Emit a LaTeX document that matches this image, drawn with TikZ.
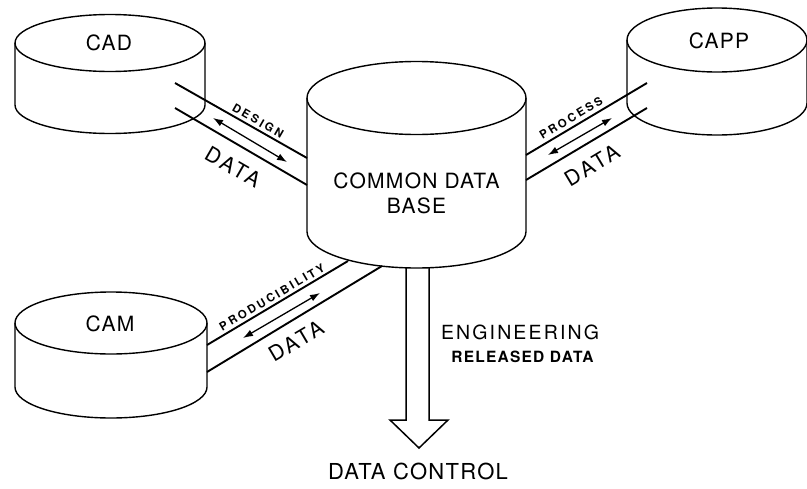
\documentclass[tikz,border=0pt]{standalone}
\usepackage{fontspec}
\setmainfont{TeX Gyre Heros}
\newfontfamily\drumsf[LetterSpace=6]{TeX Gyre Heros}
\newfontfamily\engsf[LetterSpace=11]{TeX Gyre Heros}
\newfontfamily\relsf[LetterSpace=8]{TeX Gyre Heros Bold}
\newfontfamily\datasf[LetterSpace=14]{TeX Gyre Heros}
\newfontfamily\flowsf[LetterSpace=22]{TeX Gyre Heros Bold}
\usetikzlibrary{arrows.meta}

% a data drum: name, centre x, top y, bottom y, x radius, y radius
\newcommand\datadrum[6]{%
  \draw[drumline] (#2-#5,#3) -- (#2-#5,#4)
    arc[start angle=180,end angle=0,x radius=#5,y radius=#6] -- (#2+#5,#3);
  \draw[drumline] (#2,#3) ellipse[x radius=#5,y radius=#6];
  \coordinate (#1) at (#2,#3);
}

\tikzset{
  drumline/.style={line width=1.4pt, line join=round},
  channel/.style={line width=1.9pt},
  flow/.style={line width=1.3pt, {Latex[length=10pt,width=7pt]}-{Latex[length=10pt,width=7pt]}},
  drumtext/.style={inner sep=0pt, font=\fontsize{21}{25}\selectfont\drumsf, align=center},
  datatext/.style={inner sep=0pt, font=\fontsize{21}{25}\selectfont\datasf},
  flowtext/.style={inner sep=0pt, font=\fontsize{11.5}{13}\selectfont\flowsf},
  blockarrow/.style={line width=1.5pt, line join=miter},
}

\begin{document}
\begin{tikzpicture}[x=1pt, y=1pt, yscale=-1]
\useasboundingbox (0,0) rectangle (807,488);

% drums
\datadrum{cadtop}{110}{43}{105}{95}{28.5}
\datadrum{capptop}{717}{40}{103}{90}{32}
\datadrum{camtop}{111}{323}{387}{96}{31}
\datadrum{cdbtop}{416.5}{98}{231.5}{109.5}{36.5}

\node[drumtext] (cad) at (109,43) {CAD};
\node[drumtext] (capp) at (719,41) {CAPP};
\node[drumtext] (cam) at (110,324) {CAM};
\node[drumtext] (cdb) at (416.5,193) {COMMON DATA\\BASE};

% channel ends
\coordinate (cadU) at (175,83);   \coordinate (cdbUL) at (307,158);
\coordinate (cadL) at (175,108);  \coordinate (cdbLL) at (307,185);
\coordinate (cppU) at (647,83);   \coordinate (cdbUR) at (526,155);
\coordinate (cppL) at (647,108);  \coordinate (cdbLR) at (526,180);
\coordinate (camU) at (207,345);  \coordinate (cdbBU) at (348,261);
\coordinate (camL) at (207,372);  \coordinate (cdbBL) at (382,266);

\draw[channel] (cadU) -- (cdbUL);
\draw[channel] (cadL) -- (cdbLL);
\draw[channel] (cdbUR) -- (cppU);
\draw[channel] (cdbLR) -- (cppL);
\draw[channel] (camU) -- (cdbBU);
\draw[channel] (camL) -- (cdbBL);

% two-way flows
\coordinate (f1a) at (213,118); \coordinate (f1b) at (287,162);
\coordinate (f2a) at (548,155); \coordinate (f2b) at (612,118);
\coordinate (f3a) at (243,338); \coordinate (f3b) at (320,293);
\draw[flow] (f1a) -- (f1b);
\draw[flow] (f2a) -- (f2b);
\draw[flow] (f3a) -- (f3b);

\node[flowtext, rotate=-30] (design) at (258,121) {DESIGN};
\node[datatext, rotate=-30] (data1) at (233,167) {DATA};
\node[flowtext, rotate=31] (process) at (571,118) {PROCESS};
\node[datatext, rotate=31] (data2) at (592,165) {DATA};
\node[flowtext, rotate=30.5] (produc) at (272,297) {PRODUCIBILITY};
\node[datatext, rotate=30.5] (data3) at (296,341) {DATA};

% released data outlet
\coordinate (outL) at (406,268);
\coordinate (outR) at (429,268);
\coordinate (outTip) at (419,448);
\draw[blockarrow] (outL) -- (406,420) -- (390,420) -- (outTip) -- (448,420) -- (429,420) -- (outR);

\node[inner sep=0pt, font=\fontsize{19.5}{22}\selectfont\engsf] (eng) at (520,332) {ENGINEERING};
\node[inner sep=0pt, font=\fontsize{15.5}{18}\selectfont\relsf] (rel) at (522.5,357) {RELEASED DATA};
\node[inner sep=0pt, font=\fontsize{22}{25}\selectfont\drumsf] (dctl) at (418,471) {DATA CONTROL};
\end{tikzpicture}
\end{document}
